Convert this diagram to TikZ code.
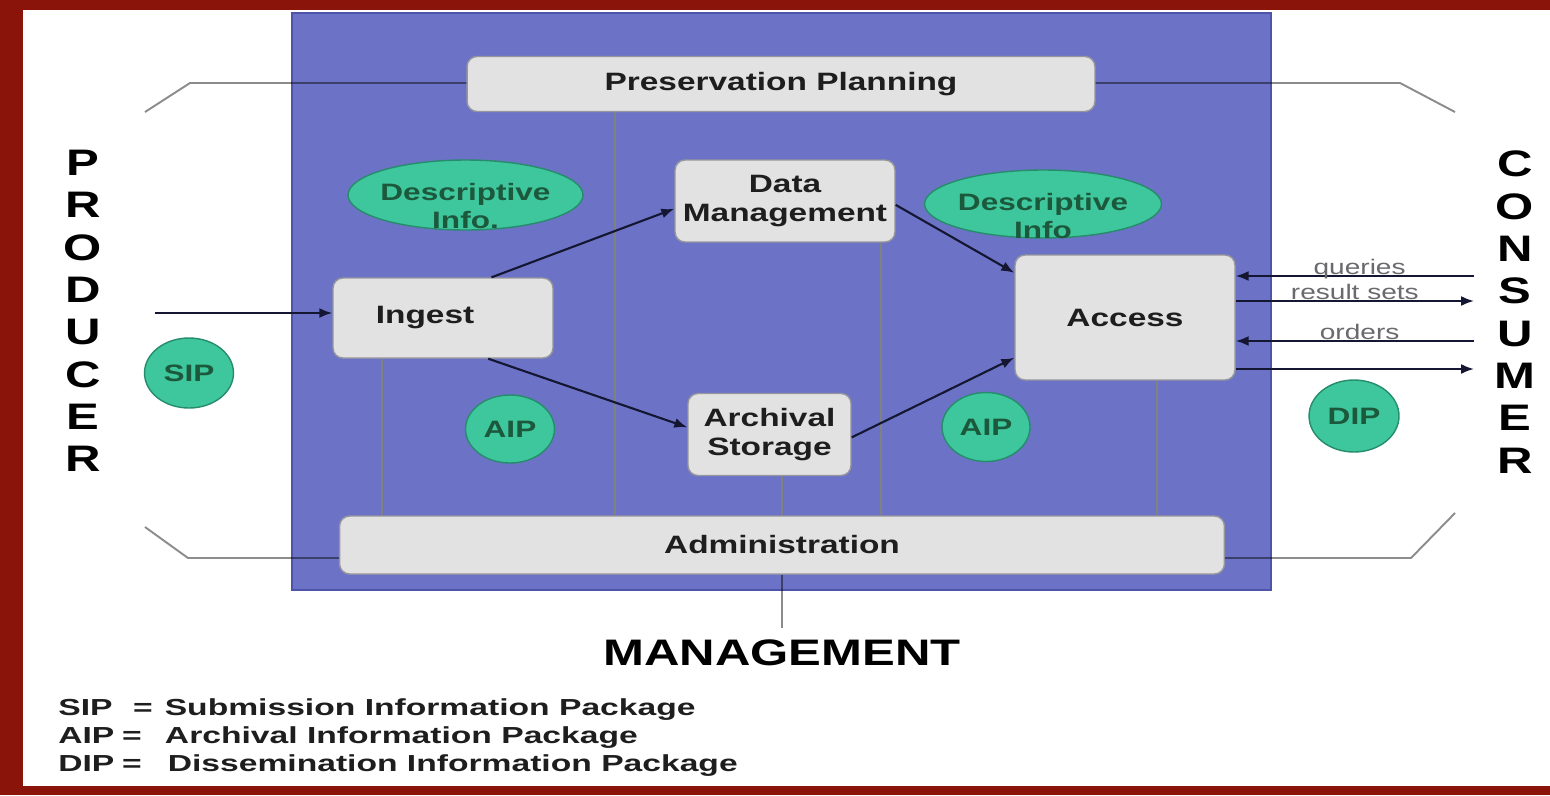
\documentclass[tikz,border=0pt]{standalone}
\usepackage{fontspec}
\setmainfont{Liberation Sans}[FakeStretch=1.33]
\newfontfamily\legendfont{Liberation Sans}[FakeStretch=1.45]
\usetikzlibrary{arrows.meta,shapes.geometric}

\definecolor{frame}{RGB}{138,20,10}
\definecolor{oaisblue}{RGB}{108,115,198}
\definecolor{oaisedge}{RGB}{78,84,170}
\definecolor{boxfill}{RGB}{226,226,226}
\definecolor{boxedge}{RGB}{150,150,158}
\definecolor{boxink}{RGB}{30,30,30}
\definecolor{pkgfill}{RGB}{62,198,156}
\definecolor{pkgedge}{RGB}{38,140,108}
\definecolor{pkgink}{RGB}{28,88,60}
\definecolor{linkgrey}{RGB}{128,130,126}
\definecolor{flow}{RGB}{20,22,50}
\definecolor{labelgrey}{RGB}{105,105,110}

\tikzset{
  procbox/.style={draw=boxedge, fill=boxfill, line width=0.8pt, rounded corners=0.2cm,
    inner sep=2pt, align=center, text=boxink, font=\fontsize{14.3}{16.4}\selectfont\bfseries},
  boxtext/.style={text=boxink, font=\fontsize{14.3}{16.4}\selectfont\bfseries, inner sep=0pt},
  pkg/.style={ellipse, draw=pkgedge, fill=pkgfill, line width=0.8pt, inner sep=0pt,
    align=center, text=pkgink, font=\fontsize{13.5}{15.5}\selectfont\bfseries},
  pkgtext/.style={align=center, text=pkgink, inner sep=0pt,
    font=\fontsize{13.5}{15.5}\selectfont\bfseries},
  party/.style={align=center, inner sep=0pt, font=\fontsize{21}{24.1}\selectfont\bfseries},
  mgmtlabel/.style={inner xsep=0pt, inner ysep=0.24cm, font=\fontsize{21}{24}\selectfont\bfseries},
  legendline/.style={anchor=base west, inner sep=0pt, text=boxink,
    font=\legendfont\fontsize{13.2}{16}\selectfont\bfseries},
  bracket/.style={draw=black, draw opacity=0.45, line width=1.1pt},
  tie/.style={draw=linkgrey, line width=1.3pt},
  flowarrow/.style={draw=flow, line width=1.2pt, -{Latex[length=0.26cm,width=0.2cm]}},
  flowlabel/.style={anchor=base, inner sep=0pt, yshift=0.04cm, text=labelgrey,
    font=\fontsize{12}{14}\selectfont}
}

\begin{document}
\begin{tikzpicture}[x=0.02cm,y=-0.02cm]
\useasboundingbox (0,0) rectangle (1550,795);

% slide frame and the archive's blue field
\fill[frame] (0,0) rectangle (1550,795);
\fill[white] (23,10) rectangle (1550,786);
\filldraw[fill=oaisblue, draw=oaisedge, line width=1pt] (292,13) rectangle (1271,590);

% bracket corners and x positions of the management ties
\coordinate (tl1) at (145,112);
\coordinate (tl2) at (190,83);
\coordinate (tr1) at (1400,83);
\coordinate (tr2) at (1455,112);
\coordinate (bl1) at (145,527);
\coordinate (bl2) at (188,558);
\coordinate (br1) at (1411,558);
\coordinate (br2) at (1455,513);
\coordinate (x1) at (382,0);
\coordinate (x2) at (615,0);
\coordinate (x3) at (782,0);
\coordinate (x4) at (881,0);
\coordinate (x5) at (1157,0);

% functional entities
\node[procbox, minimum width=12.56cm, minimum height=1.1cm] (pp) at (781,84) {Preservation Planning};
\node[procbox, minimum width=17.7cm, minimum height=1.16cm] (admin) at (782,545) {Administration};
\node[procbox, minimum width=4.4cm, minimum height=1.6cm,
      label={[boxtext,xshift=-0.36cm]center:Ingest}] (ingest) at (443,318) {};
\node[procbox, minimum width=4.4cm, minimum height=1.64cm] (dm) at (785,201) {Data\\Management};
\node[procbox, minimum width=3.26cm, minimum height=1.64cm] (arch) at (769.5,434.5) {Archival\\Storage};
\node[procbox, minimum width=4.4cm, minimum height=2.5cm] (access) at (1125,317.5) {Access};

% brackets round the archive
\draw[bracket] (tl1) -- (tl2) -- (pp.west |- tl2);
\draw[bracket] (pp.east |- tr1) -- (tr1) -- (tr2);
\draw[bracket] (bl1) -- (bl2) -- (admin.west |- bl2);
\draw[bracket] (admin.east |- br1) -- (br1) -- (br2);

% ties down to Administration
\draw[tie] (x1 |- ingest.south) -- (x1 |- admin.north);
\draw[tie] (x2 |- pp.south) -- (x2 |- admin.north);
\draw[tie] (x3 |- arch.south) -- (x3 |- admin.north);
\draw[tie] (x4 |- dm.south) -- (x4 |- admin.north);
\draw[tie] (x5 |- access.south) -- (x5 |- admin.north);

% information packages
\node[pkg, minimum width=4.7cm, minimum height=1.4cm,
      label={[pkgtext,yshift=-0.22cm]center:{Descriptive\\Info.}}] (desc1) at (465.5,195) {};
\node[pkg, minimum width=4.74cm, minimum height=1.36cm,
      label={[pkgtext,yshift=-0.24cm]center:{Descriptive\\Info}}] (desc2) at (1043,204) {};
\node[pkg, minimum width=1.78cm, minimum height=1.4cm] (sip) at (189,373) {SIP};
\node[pkg, minimum width=1.78cm, minimum height=1.36cm] (aip1) at (510,429) {AIP};
\node[pkg, minimum width=1.76cm, minimum height=1.38cm] (aip2) at (986,427) {AIP};
\node[pkg, minimum width=1.8cm, minimum height=1.44cm] (dip) at (1354,416) {DIP};

% producer and consumer
\node[party] (producer) at (83,311) {P\\R\\O\\D\\U\\C\\E\\R};
\node[party] (consumer) at (1515,312) {C\\O\\N\\S\\U\\M\\E\\R};

% flows through the archive
\coordinate (pin) at (155,313);
\draw[flowarrow] (pin) -- (pin -| ingest.west);
\draw[flowarrow] (ingest.40) -- (dm.184);
\draw[flowarrow] (ingest.-42) -- (arch.175);
\draw[flowarrow] (dm.-2) -- (access.158);
\draw[flowarrow] (arch.-2) -- (access.200);

% exchanges with the consumer
\coordinate (cq) at (1474,276);
\coordinate (cr) at (1474,301);
\coordinate (co) at (1474,341);
\coordinate (cd) at (1474,369);
\draw[flowarrow] (cq) -- (cq -| access.east) node[flowlabel, pos=0.48] {queries};
\draw[flowarrow] (cr -| access.east) -- (cr) node[flowlabel, pos=0.5] {result sets};
\draw[flowarrow] (co) -- (co -| access.east) node[flowlabel, pos=0.48] {orders};
\draw[flowarrow] (cd -| access.east) -- (cd);

% management
\node[mgmtlabel] (mgmt) at (782,653) {MANAGEMENT};
\draw[bracket] (admin.south) -- (mgmt.north);

% legend
\node[legendline] (leg1) at (58,715) {\makebox[42.5pt][l]{SIP}\makebox[18.1pt][l]{=}Submission Information Package};
\node[legendline] (leg2) at (58,743) {\makebox[36.3pt][l]{AIP}\makebox[24.4pt][l]{=}Archival Information Package};
\node[legendline] (leg3) at (58,771) {\makebox[36.3pt][l]{DIP}\makebox[26pt][l]{=}Dissemination Information Package};
\end{tikzpicture}
\end{document}
